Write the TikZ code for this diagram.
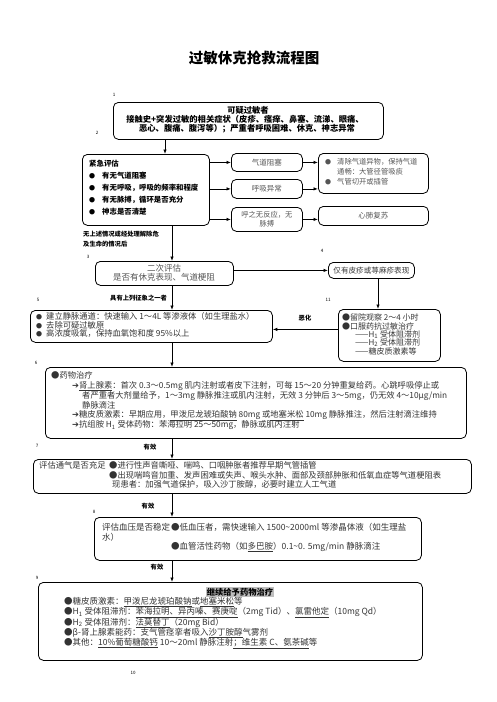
\documentclass[tikz,border=0pt]{standalone}
\usepackage{fontspec}
\setmainfont{Noto Sans CJK SC}
\newfontfamily\dejavu{DejaVu Sans}
\usetikzlibrary{arrows.meta}
\newcommand{\arw}{{\dejavu\char"2794}}
\definecolor{bodytxt}{HTML}{333333}
\definecolor{greytxt}{HTML}{555555}
\tikzset{
  box/.style={draw, line width=0.8pt, rounded corners=5pt, anchor=north west, inner sep=0pt},
  arr/.style={-{Latex[length=4.5pt,width=3.5pt]}, line width=0.8pt},
  lt/.style={inner sep=0pt, anchor=west, text=bodytxt, font=\fontsize{8.3}{10}\selectfont},
  bt/.style={inner sep=0pt, text=black, font=\fontsize{8.3}{9.5}\selectfont\bfseries},
  num/.style={inner sep=0pt, font=\fontsize{4.5}{5}\selectfont},
  tag/.style={inner sep=0pt, anchor=west, font=\fontsize{6.3}{7}\selectfont\bfseries},
  st/.style={inner sep=0pt, text=greytxt, font=\fontsize{7.5}{9}\selectfont, align=center},
}
\begin{document}
\begin{tikzpicture}[x=1pt,y=-1pt]
\useasboundingbox (0,0) rectangle (496,702);
\coordinate (colA) at (172,0);
\coordinate (colB) at (165,0);
\coordinate (colC) at (378,0);

% title
\node[inner sep=0pt, font=\fontsize{14.5}{16}\selectfont\bfseries] (title) at (254,58) {过敏休克抢救流程图};

% numbers
\node[num] (n1) at (114,95) {1};
\node[num] (n2) at (97,133) {2};
\node[num] (n3) at (88,257) {3};
\node[num] (n4) at (322,251) {4};
\node[num] (n5) at (38,300) {5};
\node[num] (n11) at (328,300) {11};
\node[num] (n6) at (36,363) {6};
\node[num] (n7) at (37,446) {7};
\node[num] (n8) at (94,512) {8};
\node[num] (n9) at (37,578) {9};
\node[num] (n10) at (133,673) {10};

% box 1
\node[box, minimum width=270pt, minimum height=37pt] (b1) at (113,102) {};
\node[bt] (t1a) at (248,110) {可疑过敏者};
\node[bt] (t1b) at (245,119.5) {接触史+突发过敏的相关症状（皮疹、瘙痒、鼻塞、流涕、眼痛、};
\node[bt] (t1c) at (247,129) {恶心、腹痛、腹泻等）；严重者呼吸困难、休克、神志异常};

% box 2
\node[box, minimum width=127pt, minimum height=71pt] (b2) at (82,154) {};
\begin{scope}[every node/.style={inner sep=0pt, anchor=west, font=\fontsize{7.4}{9}\selectfont\bfseries}]
\node (t2a) at (89,164) {紧急评估};
\node (t2b) at (89,176) {\makebox[13pt][l]{\fontsize{6}{7}\selectfont●}有无气道阻塞};
\node (t2c) at (89,188) {\makebox[13pt][l]{\fontsize{6}{7}\selectfont●}有无呼吸，呼吸的频率和程度};
\node (t2d) at (89,200) {\makebox[13pt][l]{\fontsize{6}{7}\selectfont●}有无脉搏，循环是否充分};
\node (t2e) at (89,212) {\makebox[13pt][l]{\fontsize{6}{7}\selectfont●}神志是否清楚};
\end{scope}
\node[tag] (l2a) at (83,234) {无上述情况或经处理解除危};
\node[tag] (l2b) at (83,244) {及生命的情况后};

% small boxes
\node[box, minimum width=71pt, minimum height=18pt] (s1) at (231,153) {};
\node[st] (ts1) at (s1.center) {气道阻塞};
\node[box, minimum width=71pt, minimum height=19pt] (s2) at (231,179) {};
\node[st] (ts2) at (s2.center) {呼吸异常};
\node[box, minimum width=71pt, minimum height=24pt] (s3) at (231,207) {};
\node[st, font=\fontsize{7.3}{9}\selectfont] (ts3) at (s3.center) {呼之无反应，无\\脉搏};

\node[box, minimum width=110pt, minimum height=40pt] (r1) at (318,153) {};
\begin{scope}[every node/.style={inner sep=0pt, anchor=west, text=greytxt, font=\fontsize{7.3}{9}\selectfont}]
\node (tr1a) at (325,162) {\fontsize{6}{7}\selectfont●};
\node (tr1b) at (337,162) {清除气道异物，保持气道};
\node (tr1c) at (337,172) {通畅：大管径管吸痰};
\node (tr1d) at (325,182) {\fontsize{6}{7}\selectfont●};
\node (tr1e) at (337,182) {气管切开或插管};
\end{scope}
\node[box, minimum width=110pt, minimum height=19pt] (r2) at (318,206) {};
\node[st] (tr2) at (r2.center) {心肺复苏};

% box 3
\node[box, minimum width=138pt, minimum height=24pt] (b3) at (95,261) {};
\node[st, font=\fontsize{8.5}{9}\selectfont] (t3a) at (164,268) {二次评估};
\node[st, font=\fontsize{8.5}{9}\selectfont] (t3b) at (164,277.5) {是否有休克表现、气道梗阻};

% box 4
\node[box, minimum width=86pt, minimum height=16pt] (b4) at (328,262) {};
\node[st, text=bodytxt, font=\fontsize{7.6}{9}\selectfont] (t4) at (b4.center) {仅有皮疹或荨麻疹表现};

% box 5
\node[box, minimum width=242pt, minimum height=32pt] (b5) at (30,310) {};
\node[tag] (l5) at (110,298) {具有上列征象之一者};
\begin{scope}[every node/.style={lt, font=\fontsize{8.3}{9}\selectfont}]
\node (t5a) at (36,316.5) {\makebox[10pt][l]{\fontsize{6}{7}\selectfont●}建立静脉通道：快速输入 1～4L 等渗液体（如生理盐水）};
\node (t5b) at (36,325) {\makebox[10pt][l]{\fontsize{6}{7}\selectfont●}去除可疑过敏原};
\node (t5c) at (36,333.5) {\makebox[10pt][l]{\fontsize{6}{7}\selectfont●}高浓度吸氧，保持血氧饱和度 95\%以上};
\end{scope}

% box 11
\node[box, minimum width=102pt, minimum height=52pt] (b11) at (338,309) {};
\begin{scope}[every node/.style={lt, font=\fontsize{8}{9}\selectfont}]
\node (t11a) at (342,317) {●留院观察 2～4 小时};
\node (t11b) at (342,326) {●口服药抗过敏治疗};
\node (t11c) at (355,334.5) {——H\textsubscript{1} 受体阻滞剂};
\node (t11d) at (355,342.5) {——H\textsubscript{2} 受体阻滞剂};
\node (t11e) at (355,351) {——糖皮质激素等};
\end{scope}
\node[tag, anchor=center] (l11) at (305,318) {恶化};

% box 6
\node[box, minimum width=421pt, minimum height=71pt] (b6) at (45,367) {};
\begin{scope}[every node/.style={lt}]
\node (t6a) at (51,375) {●药物治疗};
\node (t6b) at (72,386) {\arw\underline{肾上腺素}：首次 0.3～0.5mg 肌内注射或者皮下注射，可每 15～20 分钟重复给药。心跳呼吸停止或};
\node (t6c) at (82,396) {者严重者大剂量给予，1～3mg 静脉推注或肌内注射，无效 3 分钟后 3～5mg，仍无效 4～10μg/min};
\node (t6d) at (82,405.5) {静脉滴注};
\node (t6e) at (72,415.5) {\arw 糖皮质激素：早期应用，\underline{甲泼尼龙琥珀酸钠} 80mg 或\underline{地塞米松} 10mg 静脉推注，然后注射滴注维持};
\node (t6f) at (72,425.5) {\arw 抗组胺 H\textsubscript{1} 受体药物：苯海拉明 25～50mg，静脉或肌内注射};
\end{scope}

% box 7
\node[tag, anchor=center] (l7) at (150,447) {有效};
\node[box, minimum width=438pt, minimum height=34pt] (b7) at (33,459) {};
\begin{scope}[every node/.style={lt}]
\node (t7a) at (39,465.5) {评估通气是否充足};
\node (t7b) at (109,465.5) {●进行性声音嘶哑、喘鸣、口咽肿胀者推荐早期气管插管};
\node (t7c) at (109,475) {●出现喘鸣音加重、发声困难或失声、喉头水肿、面部及颈部肿胀和低氧血症等气道梗阻表};
\node (t7d) at (112,484.5) {现患者：加强气道保护，吸入沙丁胺醇，必要时建立人工气道};
\end{scope}

% box 8
\node[tag, anchor=center] (l8) at (148,506) {有效};
\node[box, minimum width=327pt, minimum height=43pt] (b8) at (94,517) {};
\begin{scope}[every node/.style={lt, font=\fontsize{8.5}{10}\selectfont}]
\node (t8a) at (102,527) {评估血压是否稳定};
\node (t8b) at (171,527) {●低血压者，需快速输入 1500\textasciitilde 2000ml 等渗晶体液（如生理盐};
\node (t8c) at (102,537) {水）};
\node (t8d) at (171,547) {●血管活性药物（如\underline{多巴胺}）0.1\textasciitilde 0. 5mg/min 静脉滴注};
\end{scope}

% box 9
\node[tag, anchor=center] (l9) at (157,567) {有效};
\node[box, minimum width=384pt, minimum height=78pt] (b9) at (38,582) {};
\node[inner sep=0pt, font=\fontsize{8.3}{9.5}\selectfont\bfseries] (t9t) at (240,592) {\setlength{\fboxsep}{0.6pt}\colorbox{black!25}{继续给予药物治疗}};
\begin{scope}[every node/.style={lt, font=\fontsize{8.5}{10}\selectfont}]
\node (t9a) at (64,602) {●糖皮质激素：\underline{甲泼尼龙琥珀酸钠}或\underline{地塞米松}等};
\node (t9b) at (64,612.5) {●H\textsubscript{1} 受体阻滞剂：\underline{苯海拉明、异丙嗪、赛庚啶}（2mg Tid）、\underline{氯雷他定}（10mg Qd）};
\node (t9c) at (64,623) {●H\textsubscript{2} 受体阻滞剂：\underline{法莫替丁}（20mg Bid）};
\node (t9d) at (64,633) {●β-肾上腺素能药：支气管痉挛者吸入\underline{沙丁胺醇}气雾剂};
\node (t9e) at (64,643.5) {●其他：\underline{10\%葡萄糖酸钙} 10～20ml 静脉注射\underline{；维生素 C、氨茶碱}等};
\end{scope}

% connectors
\draw[arr] (b1.south -| colB) -- (b2.north -| colB);
\draw[arr] (b2.east |- s1.west) -- (s1.west);
\draw[arr] (b2.east |- s2.west) -- (s2.west);
\draw[arr] (b2.east |- s3.west) -- (s3.west);
\draw[arr] (s1.east) -- (s1.east -| r1.west);
\draw[arr] (s2.east) -- (s2.east -| r1.west);
\draw[arr] (s3.east) -- (s3.east -| r2.west);
\draw[arr] (b2.south -| colA) -- (b3.north -| colA);
\draw[arr] (b3.east |- b4.west) -- (b4.west);
\draw[arr] (b4.south -| colC) -- (b11.north -| colC);
\draw[arr] (b3.south -| colA) -- (b5.north -| colA);
\coordinate (e11) at ([yshift=6pt]b11.west);
\draw[arr] (e11) -- (e11 -| b5.east);
\draw[arr] (b5.south -| colA) -- (b6.north -| colA);
\draw[arr] (b6.south -| colA) -- (b7.north -| colA);
\draw[arr] (b7.south -| colA) -- (b8.north -| colA);
\draw[arr] (b8.south -| colA) -- (b9.north -| colA);
\end{tikzpicture}
\end{document}
